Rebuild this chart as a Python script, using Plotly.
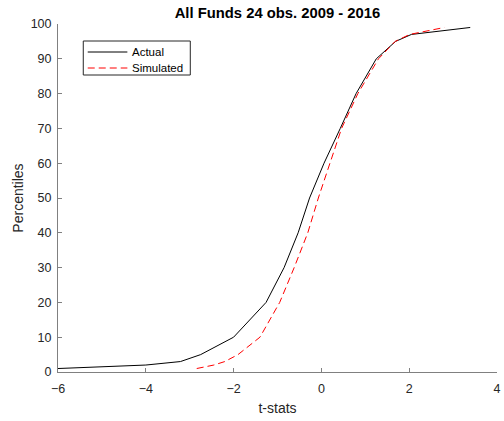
import plotly.graph_objects as go

percentiles = [1, 2, 3, 5, 10, 20, 30, 40, 50, 60, 70, 80, 90, 95, 97, 99]
actual_t = [-6.0, -4.0, -3.21, -2.75, -2.0, -1.26, -0.85, -0.53, -0.27, 0.06, 0.43, 0.79, 1.25, 1.69, 2.05, 3.39]

sim_percentiles = [1, 2, 3, 5, 10, 20, 30, 40, 50, 60, 70, 80, 90, 95, 97, 99]
sim_t = [-2.84, -2.45, -2.2, -1.9, -1.4, -0.95, -0.62, -0.31, -0.07, 0.19, 0.46, 0.83, 1.3, 1.68, 2.01, 2.8]

series_names = ["Actual", "Simulated"]
title_text = "All Funds 24 obs. 2009 - 2016"
x_label = "t-stats"
y_label = "Percentiles"

font_family = "Liberation Sans, Arial, sans-serif"
axis_col = "#262626"
line_col = "#808080"

W, H = 504, 421
L, R, T, B = 58, 3, 24, 49
pw, ph = W - L - R, H - T - B


def px(x):
    return (x - L) / pw


def py(y):
    return (H - B - y) / ph


fig = go.Figure()
fig.add_trace(go.Scatter(x=actual_t, y=percentiles, mode="lines", name=series_names[0],
                         line=dict(color="black", width=1)))
fig.add_trace(go.Scatter(x=sim_t, y=sim_percentiles, mode="lines", name=series_names[1],
                         line=dict(color="#ff0000", width=1, dash="7px,4px")))

# custom legend (MATLAB style box)
shapes = [
    dict(type="rect", xref="paper", yref="paper", x0=px(83.5), x1=px(191.5), y0=py(75), y1=py(41),
         line=dict(color="#262626", width=1), fillcolor="white", layer="above"),
    dict(type="line", xref="paper", yref="paper", x0=px(88), x1=px(128), y0=py(52), y1=py(52),
         line=dict(color="black", width=1), layer="above"),
    dict(type="line", xref="paper", yref="paper", x0=px(88), x1=px(128), y0=py(68), y1=py(68),
         line=dict(color="#ff0000", width=1, dash="7px,4px"), layer="above"),
]
annotations = [
    dict(text=series_names[0], xref="paper", yref="paper", x=px(131), y=py(52),
         xanchor="left", yanchor="middle", showarrow=False,
         font=dict(size=11.5, color="black", family=font_family)),
    dict(text=series_names[1], xref="paper", yref="paper", x=px(131), y=py(68),
         xanchor="left", yanchor="middle", showarrow=False,
         font=dict(size=11.5, color="black", family=font_family)),
]

fig.update_layout(
    width=W, height=H,
    margin=dict(l=L, r=R, t=T, b=B),
    paper_bgcolor="white", plot_bgcolor="white",
    font=dict(family=font_family, size=12, color=axis_col),
    title=dict(text="<b>" + title_text + "</b>", x=0.5, xref="paper", xanchor="center",
               y=1 - 13 / H, yref="container", yanchor="middle",
               font=dict(size=14.8, color="black", family=font_family)),
    showlegend=False,
    shapes=shapes,
    annotations=annotations,
    xaxis=dict(range=[-6, 4], tickmode="linear", tick0=-6, dtick=2,
               showgrid=False, zeroline=False, showline=True, linecolor=line_col, linewidth=1,
               ticks="inside", ticklen=4, tickcolor=line_col,
               ticklabelstandoff=5, ticklabeloverflow="allow",
               tickfont=dict(size=12.5, color=axis_col),
               title=dict(text=x_label, font=dict(size=14, color=axis_col), standoff=8)),
    yaxis=dict(range=[0, 100], tickmode="linear", tick0=0, dtick=10,
               showgrid=False, zeroline=False, showline=True, linecolor=line_col, linewidth=1,
               ticks="inside", ticklen=4, tickcolor=line_col,
               ticklabelstandoff=3,
               tickfont=dict(size=12.5, color=axis_col),
               title=dict(text=y_label, font=dict(size=14, color=axis_col), standoff=3)),
)

fig.write_html("out.html")
